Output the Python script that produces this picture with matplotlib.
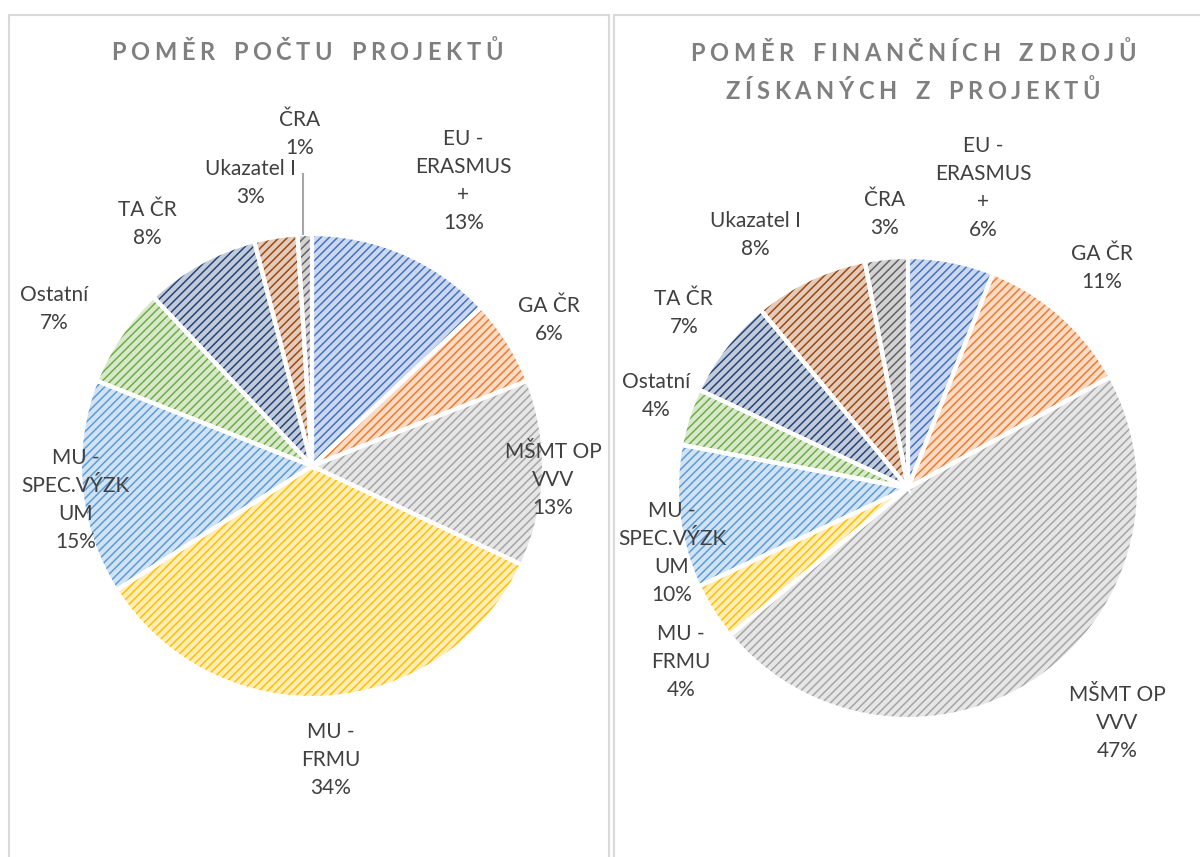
import numpy as np
import matplotlib
matplotlib.use("Agg")
import matplotlib.pyplot as plt
from matplotlib.patches import Rectangle
from matplotlib.font_manager import FontProperties

plt.rcParams['font.family'] = ['Lato', 'DejaVu Sans']
plt.rcParams['hatch.linewidth'] = 1.1

# data
categories = ["EU -\nERASMUS\n+", "GA ČR", "MŠMT OP\nVVV", "MU -\nFRMU",
              "MU -\nSPEC.VÝZK\nUM", "Ostatní", "TA ČR", "Ukazatel I", "ČRA"]
count_pct = [13, 6, 13, 34, 15, 7, 8, 3, 1]
money_pct = [6, 11, 47, 4, 10, 4, 7, 8, 3]

title_left = ["POMĚR POČTU PROJEKTŮ"]
title_right = ["POMĚR FINANČNÍCH ZDROJŮ", "ZÍSKANÝCH Z PROJEKTŮ"]

base_colors = ["#4472C4", "#ED7D31", "#A5A5A5", "#FFC000", "#5B9BD5",
               "#70AD47", "#264478", "#9E480E", "#636363"]

# label placement (distance in radii, angle tweak in degrees)
left_dist = [1.39, 1.20, 1.04, 1.27, 1.03, 1.30, 1.26, 1.25, 1.43]
left_dang = [-4.6, -0.8, -1.5, 0.0, 2.8, 2.9, 5.4, 3.3, 0.3]
right_dist = [1.34, 1.27, 1.36, 1.24, 1.06, 1.16, 1.23, 1.28, 1.19]
right_dang = [-3.2, 0.1, 7.5, 5.1, 8.2, -2.1, -0.1, 5.8, -0.6]

W, H = 1200, 857
fig = plt.figure(figsize=(12, 8.57), dpi=100)
renderer = fig.canvas.get_renderer()


def lighten(c, k=0.72):
    rgb = np.array(matplotlib.colors.to_rgb(c))
    return tuple(rgb + (1 - rgb) * k)


def draw_pie(cx, cy, r, vals, dist, dang, leader_idx=None):
    s = 330
    ax = fig.add_axes([(cx - s) / W, (H - cy - s) / H, 2 * s / W, 2 * s / H])
    wedges, _ = ax.pie(vals, startangle=90, counterclock=False, radius=1,
                       colors=[lighten(c) for c in base_colors],
                       wedgeprops=dict(linewidth=0))
    for w, c in zip(wedges, base_colors):
        w.set_hatch("////")
        w.set_edgecolor(c)
    ax.pie(vals, startangle=90, counterclock=False, radius=1,
           wedgeprops=dict(fill=False, edgecolor="white", linewidth=3))
    ax.set_xlim(-s / r, s / r)
    ax.set_ylim(-s / r, s / r)
    ax.axis("off")
    for i, w in enumerate(wedges):
        ang = np.deg2rad((w.theta1 + w.theta2) / 2 + dang[i])
        x, y = dist[i] * np.cos(ang), dist[i] * np.sin(ang)
        ax.text(x, y, f"{categories[i]}\n{vals[i]}%", ha="center", va="center",
                fontsize=15, color="#404040", linespacing=1.5)
        if i == leader_idx:
            ax.plot([np.cos(ang), np.cos(ang)],
                    [np.sin(ang) * 1.0, np.sin(ang) * 1.26],
                    color="#A6A6A6", lw=1.5)
    return ax


def tracked_title(xc, yc, text, size=17, track=4.5, word_gap=10):
    prop = FontProperties(family=['Lato', 'DejaVu Sans'], weight="bold", size=size)
    widths = []
    for ch in text:
        if ch == " ":
            widths.append(word_gap)
        else:
            w, _, _ = renderer.get_text_width_height_descent(ch, prop, ismath=False)
            widths.append(w)
    total = sum(widths) + track * (len(text) - 1)
    x = xc - total / 2
    for ch, w in zip(text, widths):
        if ch != " ":
            fig.text(x / W, 1 - yc / H, ch, ha="left", va="baseline",
                     fontproperties=prop, color="#7F7F7F")
        x += w + track


draw_pie(312, 466, 232, count_pct, left_dist, left_dang, leader_idx=8)
draw_pie(908, 488, 231, money_pct, right_dist, right_dang)

tracked_title(307, 60, title_left[0])
tracked_title(913, 61, title_right[0])
tracked_title(913, 99, title_right[1])

# panel borders
fig.patches.append(Rectangle((9 / W, -0.05), 600 / W, 1 - 15 / H + 0.05,
                             transform=fig.transFigure, fill=False,
                             edgecolor="#D9D9D9", lw=1.5))
fig.patches.append(Rectangle((614 / W, -0.05), 700 / W, 1 - 15 / H + 0.05,
                             transform=fig.transFigure, fill=False,
                             edgecolor="#D9D9D9", lw=1.5))

fig.savefig("out.png", dpi=100)
